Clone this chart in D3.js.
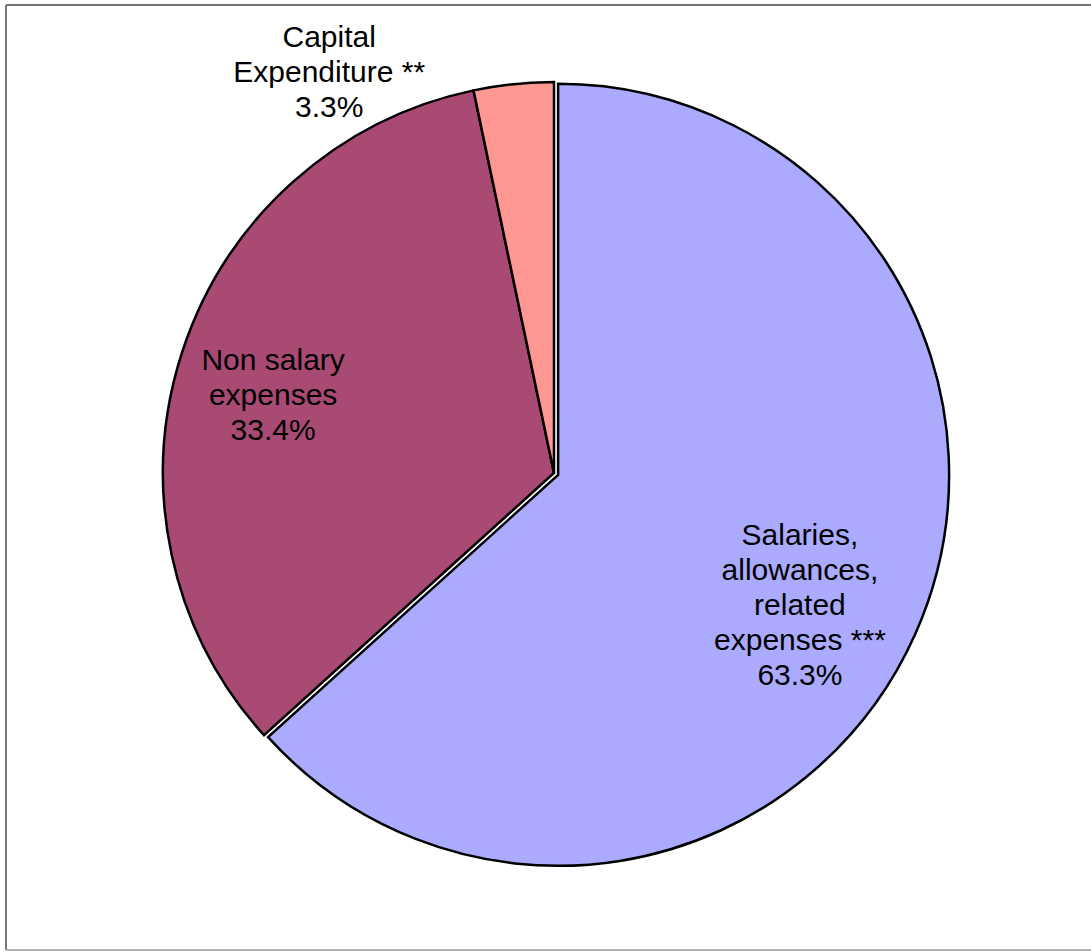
<!DOCTYPE html>
<html>
<head>
<meta charset="utf-8">
<script src="https://cdn.jsdelivr.net/npm/d3@7"></script>
<style>
  body { margin: 0; background: #fff; }
  svg { display: block; }
  .label { font-family: "Liberation Sans", Arial, sans-serif; font-size: 30px; fill: #000; }
</style>
</head>
<body>
<script>
const width = 1091;
const height = 952;

// chart data
const categories = ['Salaries, allowances, related expenses ***', 'Non salary expenses', 'Capital Expenditure **'];
const shares = [63.3, 33.4, 3.3];
const labelLines = [
    ['Salaries,', 'allowances,', 'related', 'expenses ***', '63.3%'],
    ['Non salary', 'expenses', '33.4%'],
    ['Capital', 'Expenditure **', '3.3%']
];
const colors = ['#AAAAFF', '#A94A74', '#FF9893'];

// layout
const cx = 554, cy = 473, radius = 391;
const explode = [4.5, 0, 0];
// label anchor (polar: angle in degrees clockwise from top, distance from centre)
const labelPolar = [[120, 284], [283.6, 289], [330.1, 451]];
const lineHeight = 35;

const svg = d3.select('body').append('svg')
    .attr('width', width)
    .attr('height', height);

// frame
svg.append('line').attr('x1', 6).attr('y1', 5).attr('x2', 1091).attr('y2', 5)
    .attr('stroke', '#444').attr('stroke-width', 1.5);
svg.append('line').attr('x1', 6).attr('y1', 5).attr('x2', 6).attr('y2', 950)
    .attr('stroke', '#777').attr('stroke-width', 2);
svg.append('line').attr('x1', 6).attr('y1', 950).attr('x2', 1091).attr('y2', 950)
    .attr('stroke', '#999').attr('stroke-width', 1.5);

const data = categories.map((c, i) => ({name: c, value: shares[i], i: i}));

const pie = d3.pie().sort(null).value(d => d.value);
const arc = d3.arc().innerRadius(0).outerRadius(radius);
const arcs = pie(data);

const g = svg.append('g').attr('transform', `translate(${cx},${cy})`);

g.selectAll('path.slice')
    .data(arcs)
    .join('path')
    .attr('class', 'slice')
    .attr('d', arc)
    .attr('fill', d => colors[d.data.i])
    .attr('stroke', '#000')
    .attr('stroke-width', 2.5)
    .attr('stroke-linejoin', 'miter')
    .attr('transform', d => {
        const mid = (d.startAngle + d.endAngle) / 2;
        const e = explode[d.data.i];
        return `translate(${e * Math.sin(mid)},${-e * Math.cos(mid)})`;
    });

// labels (anchor = baseline of the middle line)
const labels = g.selectAll('text.label')
    .data(arcs)
    .join('text')
    .attr('class', 'label')
    .attr('text-anchor', 'middle');

labels.each(function(d) {
    const [deg, dist] = labelPolar[d.data.i];
    const a = deg * Math.PI / 180;
    const x = dist * Math.sin(a);
    const y = -dist * Math.cos(a);
    const lines = labelLines[d.data.i];
    const y0 = y - (lines.length - 1) * lineHeight / 2;
    d3.select(this).selectAll('tspan')
        .data(lines)
        .join('tspan')
        .attr('x', x)
        .attr('y', (t, k) => y0 + k * lineHeight)
        .text(t => t);
});
</script>
</body>
</html>
